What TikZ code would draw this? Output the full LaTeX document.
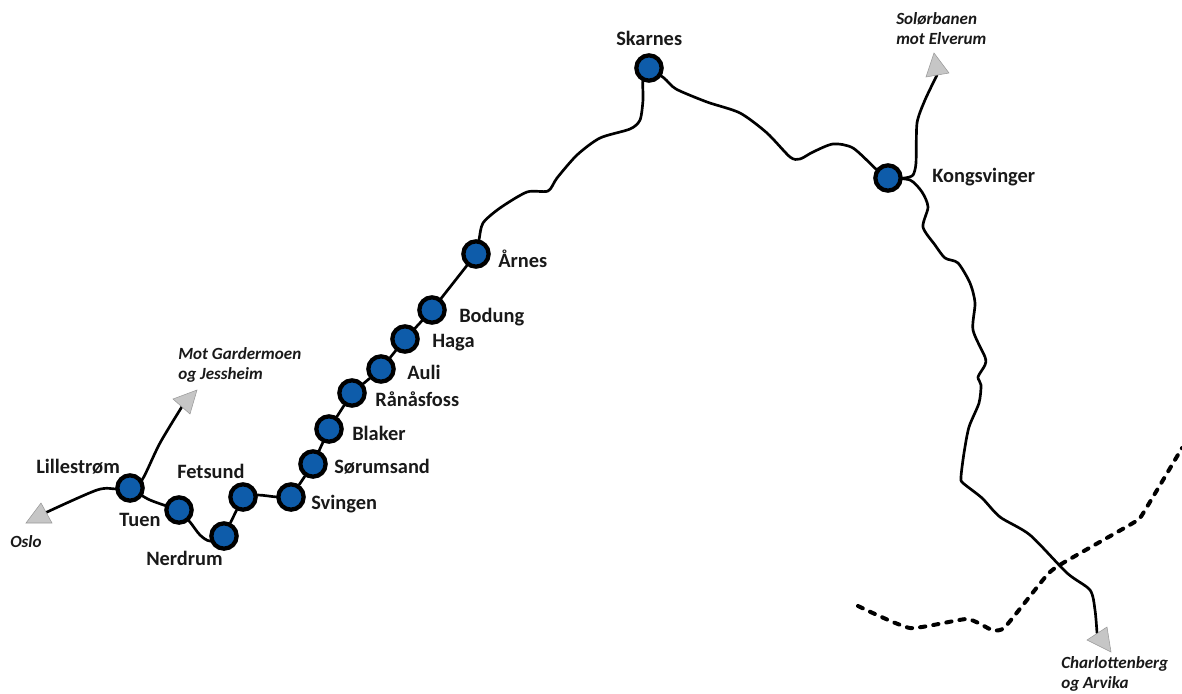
\documentclass[tikz,border=0pt]{standalone}
\usepackage{fontspec}
\setmainfont{Carlito}
\usetikzlibrary{backgrounds}
\definecolor{stblue}{RGB}{14,92,170}
\definecolor{tipgray}{RGB}{198,198,198}
\tikzset{
  x=0.75pt,y=-0.75pt,
  station/.style={circle,draw=black,fill=stblue,line width=3.2pt,minimum size=19pt,inner sep=0pt},
  rail/.style={draw=black,line width=2pt,line cap=round,line join=round},
  border/.style={draw=black,line width=3pt,dash pattern=on 4pt off 6pt,line cap=round,line join=round},
  tip/.style={fill=tipgray,draw=gray!80,line width=0.4pt},
  lab/.style={font=\bfseries\fontsize{15.3}{17}\selectfont,inner sep=0pt,text=black!90,anchor=base west},
  ital/.style={font=\bfseries\itshape\fontsize{12.8}{14.6}\selectfont,inner sep=0pt,align=left,text=black!90,anchor=base west},
}
\begin{document}
\begin{tikzpicture}
\useasboundingbox (0,0) rectangle (1182,693);
\node[station] (lil) at (130,488) {};
\node[station] (tue) at (179,510) {};
\node[station] (ner) at (224,536) {};
\node[station] (fet) at (243,497) {};
\node[station] (svi) at (291,497) {};
\node[station] (sor) at (313,464) {};
\node[station] (bla) at (329,429) {};
\node[station] (ran) at (352,393) {};
\node[station] (aul) at (381,369) {};
\node[station] (hag) at (405,339) {};
\node[station] (bod) at (432,310) {};
\node[station] (arn) at (476,254) {};
\node[station] (ska) at (649,68) {};
\node[station] (kon) at (888,178) {};
\coordinate (osloend) at (45,513);
\coordinate (garend) at (183,405);
\coordinate (solend) at (937,75);
\coordinate (chaend) at (1097,633);
\begin{scope}[on background layer]
\draw[rail] plot[smooth,tension=0.5] coordinates {(lil.center) (117,489) (97,490) (osloend)};
\draw[rail] plot[smooth,tension=0.5] coordinates {(lil.center) (142,480) (160,443) (garend)};
\draw[rail] plot[smooth,tension=0.5] coordinates {(lil.center) (150,500) (tue.center)};
\draw[rail] plot[smooth,tension=0.5] coordinates {(tue.center) (190,522) (200,535) (210,541) (ner.center)};
\draw[rail] (ner) -- (fet);
\draw[rail] plot[smooth,tension=0.5] coordinates {(fet.center) (258,495) (277,497) (svi.center)};
\draw[rail] (svi) -- (sor);
\draw[rail] (sor) -- (bla);
\draw[rail] (bla) -- (ran);
\draw[rail] (ran) -- (aul);
\draw[rail] (aul) -- (hag);
\draw[rail] (hag) -- (bod);
\draw[rail] (bod) -- (arn);
\draw[rail] plot[smooth,tension=0.45] coordinates {(arn.center) (479,240) (483,223) (500,208) (527,192) (548,191) (557,178) (577,155) (600,138) (630,129) (640,120) (643,100) (643,80) (ska.center)};
\draw[rail] plot[smooth,tension=0.45] coordinates {(ska.center) (664,78) (676,89) (707,102) (740,113) (767,133) (790,157) (800,159) (813,152) (833,144) (853,148) (877,170) (kon.center)};
\draw[rail] plot[smooth,tension=0.4] coordinates {(kon.center) (905,178) (913,175) (916,163) (917,123) (925,100) (solend)};
\draw[rail] plot[smooth,tension=0.45] coordinates {(kon.center) (910,180) (922,192) (928,207) (923,227) (935,245) (945,258) (958,263) (970,283) (975,303) (973,330) (985,357) (985,365) (978,377) (981,385) (979,403) (969,427) (964,453) (961,477) (963,483) (982,498) (1000,517) (1030,535) (1067,573) (1090,590) (1095,610) (chaend)};
\draw[border] plot[smooth,tension=0.3] coordinates {(858,606) (910,628) (967,619) (992,630) (1005,627) (1047,575) (1063,563) (1133,523) (1142,515) (1182,448)};
\end{scope}
\draw[tip] (26,523) -- (41,503) -- (52,523) -- cycle;
\draw[tip] (173,399) -- (197,390) -- (190,414) -- cycle;
\draw[tip] (934,53) -- (949,73) -- (926,77) -- cycle;
\draw[tip] (1087,640) -- (1107,627) -- (1111,652) -- cycle;
\node[lab] (t1) at (36,473) {Lillestrøm};
\node[lab] (t2) at (119,526) {Tuen};
\node[lab] (t3) at (146,565) {Nerdrum};
\node[lab] (t4) at (177,478) {Fetsund};
\node[lab] (t5) at (311,509) {Svingen};
\node[lab] (t6) at (334,473) {Sørumsand};
\node[lab] (t7) at (352,440) {Blaker};
\node[lab] (t8) at (375,406) {Rånåsfoss};
\node[lab] (t9) at (407,379) {Auli};
\node[lab] (t10) at (432,347) {Haga};
\node[lab] (t11) at (459,322) {Bodung};
\node[lab] (t12) at (498,267) {Årnes};
\node[lab] (t13) at (616,45) {Skarnes};
\node[lab] (t14) at (932,182) {Kongsvinger};
\node[ital] (t15) at (178,379) {Mot Gardermoen\\og Jessheim};
\node[ital] (t16) at (10,547) {Oslo};
\node[ital] (t17) at (896,44) {Solørbanen\\mot Elverum};
\node[ital] (t18) at (1061,688) {Charlottenberg\\og Arvika};
\end{tikzpicture}
\end{document}
